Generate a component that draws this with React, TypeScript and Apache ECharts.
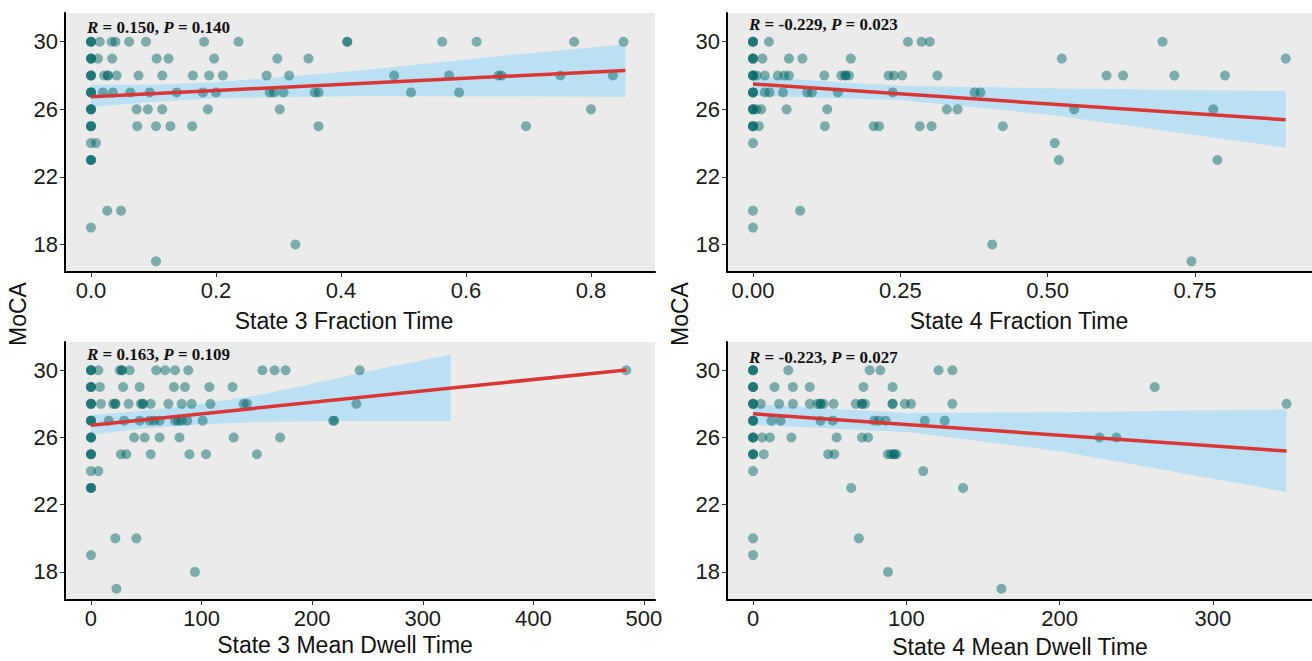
import React, { useEffect, useRef } from "react";
import * as echarts from "echarts";

// MoCA score rows (y values) and the x values read for each row
const mocaLevels = [30, 29, 28, 27, 26, 25, 24, 23, 20, 19, 18, 17];

const state3FractionX = [
  [0, 0, 0, 0.014, 0.033, 0.039, 0.061, 0.088, 0.181, 0.236, 0.41, 0.41, 0.562, 0.617, 0.773, 0.852],
  [0, 0, 0, 0.011, 0.034, 0.105, 0.124, 0.197, 0.298, 0.348],
  [0, 0, 0, 0.021, 0.027, 0.027, 0.041, 0.076, 0.114, 0.163, 0.189, 0.211, 0.281, 0.317, 0.485, 0.573, 0.652, 0.657, 0.751, 0.835],
  [0, 0, 0, 0.019, 0.035, 0.063, 0.094, 0.137, 0.179, 0.2, 0.286, 0.293, 0.308, 0.358, 0.364, 0.512, 0.589],
  [0, 0, 0, 0.073, 0.091, 0.114, 0.187, 0.302, 0.8],
  [0, 0, 0, 0.074, 0.104, 0.127, 0.162, 0.364, 0.696],
  [0, 0.008],
  [0, 0, 0],
  [0.026, 0.048],
  [0],
  [0.327],
  [0.104],
];

const state4FractionX = [
  [0, 0, 0, 0.027, 0.263, 0.286, 0.3, 0.695],
  [0, 0, 0, 0.016, 0.061, 0.084, 0.166, 0.524, 0.904],
  [0, 0, 0, 0.006, 0.02, 0.042, 0.053, 0.061, 0.121, 0.15, 0.157, 0.157, 0.163, 0.23, 0.239, 0.253, 0.313, 0.6, 0.628, 0.715, 0.801],
  [0, 0, 0, 0.02, 0.028, 0.051, 0.092, 0.1, 0.144, 0.237, 0.376, 0.386],
  [0, 0, 0, 0.006, 0.014, 0.057, 0.126, 0.329, 0.347, 0.545, 0.781],
  [0, 0, 0, 0.01, 0.122, 0.205, 0.214, 0.283, 0.303, 0.424],
  [0, 0.512],
  [0.519, 0.788],
  [0, 0.08],
  [0],
  [0.406],
  [0.744],
];

const state3DwellX = [
  [0, 0, 0, 6.6, 26, 28, 28, 35, 59, 67, 76, 88, 155, 166, 176, 243, 484],
  [0, 0, 0, 8, 29, 44, 75, 85, 107, 128],
  [0, 0, 0, 9, 20, 22, 22, 34, 45, 47, 47, 54, 70, 82, 91, 108, 138, 141, 240],
  [0, 0, 0, 16, 30, 44, 53, 57, 62, 76, 79, 82, 87, 101, 219, 220],
  [0, 0, 0, 39, 48.5, 62, 80, 129, 171],
  [0, 0, 0, 27, 32, 54, 89, 104, 150],
  [0, 6.6],
  [0, 0, 0],
  [22, 41],
  [0],
  [94],
  [23],
];

const state4DwellX = [
  [0, 0, 0, 23, 76, 83, 121, 130],
  [0, 0, 0, 14, 26, 37, 72, 91, 262],
  [0, 0, 0, 5, 17, 26, 37, 42, 44, 44, 46, 52.5, 67, 71, 71, 73, 91, 91, 99, 103, 130, 348],
  [0, 0, 0, 12, 18, 44, 52, 79, 82, 86.5, 112, 125],
  [0, 0, 0, 6, 11, 25, 54.5, 71, 75, 226, 237],
  [0, 0, 0, 7, 49, 53, 88, 90, 92, 92, 93.5],
  [0, 111],
  [64, 137],
  [0, 69],
  [0],
  [88],
  [162],
];

// fitted lines (end points) and confidence bands
const state3FractionFitX = [0, 0.855];
const state3FractionFitY = [26.75, 28.3];
const state3FractionBandX = [0, 0.1, 0.2, 0.3, 0.43, 0.64, 0.855];
const state3FractionBandUpper = [27.45, 27.45, 27.6, 27.9, 28.3, 29.1, 29.85];
const state3FractionBandLower = [26.15, 26.45, 26.65, 26.72, 26.78, 26.77, 26.75];

const state4FractionFitX = [0, 0.904];
const state4FractionFitY = [27.5, 25.38];
const state4FractionBandX = [0, 0.1, 0.25, 0.5, 0.904];
const state4FractionBandUpper = [27.98, 27.7, 27.39, 27.25, 27.08];
const state4FractionBandLower = [26.8, 26.7, 26.55, 25.69, 23.73];

const state3DwellFitX = [0, 484];
const state3DwellFitY = [26.73, 30.02];
const state3DwellBandX = [0, 50, 100, 150, 200, 243, 325];
const state3DwellBandUpper = [27.33, 27.6, 28.0, 28.5, 29.2, 29.84, 30.93];
const state3DwellBandLower = [26.18, 26.55, 26.78, 26.9, 26.97, 26.98, 26.98];

const state4DwellFitX = [0, 348];
const state4DwellFitY = [27.41, 25.19];
const state4DwellBandX = [0, 100, 200, 348];
const state4DwellBandUpper = [27.97, 27.45, 27.5, 27.68];
const state4DwellBandLower = [26.75, 26.32, 25.18, 22.76];

const yTicks = [18, 22, 26, 30];
const state3FractionTicks = [0, 0.2, 0.4, 0.6, 0.8];
const state4FractionTicks = [0, 0.25, 0.5, 0.75];
const state3DwellTicks = [0, 100, 200, 300, 400, 500];
const state4DwellTicks = [0, 100, 200, 300];

const xTitles = ["State 3 Fraction Time", "State 4 Fraction Time", "State 3 Mean Dwell Time", "State 4 Mean Dwell Time"];
const statLabels = [
  ["0.150", "0.140"],
  ["-0.229", "0.023"],
  ["0.163", "0.109"],
  ["-0.223", "0.027"],
];

const SANS = "'Liberation Sans', Arial, sans-serif";
const SERIF = "'Liberation Serif', 'Times New Roman', serif";

export default function App() {
  const ref = useRef<HTMLDivElement>(null);

  useEffect(() => {
    if (!ref.current) return;
    const chart = echarts.init(ref.current, undefined, { renderer: "svg" });

    const panels = [
      {
        xs: state3FractionX, fitX: state3FractionFitX, fitY: state3FractionFitY,
        bandX: state3FractionBandX, bandU: state3FractionBandUpper, bandL: state3FractionBandLower,
        ticks: state3FractionTicks, fmt: (v: number) => v.toFixed(1),
        grid: { left: 65, top: 13, width: 590, height: 259 },
        xMin: -0.0416, xMax: 0.9024, yMin: 16.37, yMax: 31.7,
      },
      {
        xs: state4FractionX, fitX: state4FractionFitX, fitY: state4FractionFitY,
        bandX: state4FractionBandX, bandU: state4FractionBandUpper, bandL: state4FractionBandLower,
        ticks: state4FractionTicks, fmt: (v: number) => v.toFixed(2),
        grid: { left: 727, top: 13, width: 585, height: 259 },
        xMin: -0.0441, xMax: 0.9486, yMin: 16.37, yMax: 31.7,
      },
      {
        xs: state3DwellX, fitX: state3DwellFitX, fitY: state3DwellFitY,
        bandX: state3DwellBandX, bandU: state3DwellBandUpper, bandL: state3DwellBandLower,
        ticks: state3DwellTicks, fmt: (v: number) => String(v),
        grid: { left: 65, top: 342, width: 590, height: 258 },
        xMin: -23.5, xMax: 510, yMin: 16.33, yMax: 31.68,
      },
      {
        xs: state4DwellX, fitX: state4DwellFitX, fitY: state4DwellFitY,
        bandX: state4DwellBandX, bandU: state4DwellBandUpper, bandL: state4DwellBandLower,
        ticks: state4DwellTicks, fmt: (v: number) => String(v),
        grid: { left: 727, top: 342, width: 585, height: 258 },
        xMin: -17, xMax: 364.6, yMin: 16.33, yMax: 31.68,
      },
    ];

    const grid = panels.map((p) => ({ ...p.grid, show: true, backgroundColor: "#EBEBEB", borderWidth: 0 }));

    const xAxis = panels.map((p, i) => ({
      type: "value",
      gridIndex: i,
      min: p.xMin,
      max: p.xMax,
      splitLine: { show: false },
      axisLine: { show: true, onZero: false, lineStyle: { color: "#000", width: 2 } },
      axisTick: { show: true, customValues: p.ticks, length: 5, lineStyle: { color: "#333", width: 1 } },
      axisLabel: {
        customValues: p.ticks,
        formatter: p.fmt,
        fontSize: 22,
        fontFamily: SANS,
        color: "#1a1a1a",
        margin: 7,
      },
    }));

    const yAxis = panels.map((p, i) => ({
      type: "value",
      gridIndex: i,
      min: p.yMin,
      max: p.yMax,
      splitLine: { show: false },
      axisLine: { show: true, onZero: false, lineStyle: { color: "#000", width: 2 } },
      axisTick: { show: true, customValues: yTicks, length: 5, lineStyle: { color: "#333", width: 1 } },
      axisLabel: {
        customValues: yTicks,
        fontSize: 22,
        fontFamily: SANS,
        color: "#1a1a1a",
        margin: 7,
      },
    }));

    const series: any[] = [];
    panels.forEach((p, i) => {
      const pts: number[][] = [];
      p.xs.forEach((row, r) => row.forEach((x) => pts.push([x, mocaLevels[r]])));
      series.push({
        type: "scatter",
        xAxisIndex: i,
        yAxisIndex: i,
        data: pts,
        symbolSize: 10,
        itemStyle: { color: "rgba(0,100,100,0.6)" },
        silent: true,
      });
      series.push({
        type: "custom",
        xAxisIndex: i,
        yAxisIndex: i,
        data: [[p.bandX[0], p.bandL[0]]],
        clip: true,
        silent: true,
        renderItem: (_params: any, api: any) => {
          const poly: number[][] = [];
          p.bandX.forEach((x, k) => poly.push(api.coord([x, p.bandU[k]])));
          for (let k = p.bandX.length - 1; k >= 0; k--) poly.push(api.coord([p.bandX[k], p.bandL[k]]));
          return {
            type: "polygon",
            shape: { points: poly },
            style: { fill: "rgba(150,215,250,0.55)", stroke: "none" },
          };
        },
      });
      series.push({
        type: "line",
        xAxisIndex: i,
        yAxisIndex: i,
        data: p.fitX.map((x, k) => [x, p.fitY[k]]),
        symbol: "none",
        lineStyle: { color: "#D93636", width: 3.5 },
        silent: true,
      });
    });

    const statPos = [
      [87, 27],
      [749, 24],
      [87, 354],
      [749, 357],
    ];
    const titlePos = [
      [344, 321],
      [1019, 321],
      [345, 645],
      [1020, 647],
    ];

    const graphic: any[] = [];
    statLabels.forEach((s, i) => {
      graphic.push({
        type: "text",
        x: statPos[i][0],
        y: statPos[i][1],
        z: 100,
        style: {
          text: `{i|R}{b| = ${s[0]}, }{i|P}{b| = ${s[1]}}`,
          rich: {
            i: { fontStyle: "italic", fontWeight: "bold", fontFamily: SERIF, fontSize: 17, fill: "#111" },
            b: { fontWeight: "bold", fontFamily: SERIF, fontSize: 17, fill: "#111" },
          },
          textAlign: "left",
          textVerticalAlign: "middle",
        },
      });
    });
    xTitles.forEach((t, i) => {
      graphic.push({
        type: "text",
        x: titlePos[i][0],
        y: titlePos[i][1],
        style: {
          text: t,
          fontSize: 23,
          fontFamily: SANS,
          fill: "#111",
          textAlign: "center",
          textVerticalAlign: "middle",
        },
      });
    });
    [
      [18, 314],
      [680, 314],
    ].forEach((pos) => {
      graphic.push({
        type: "text",
        x: pos[0],
        y: pos[1],
        rotation: Math.PI / 2,
        style: {
          text: "MoCA",
          fontSize: 23,
          fontFamily: SANS,
          fill: "#111",
          textAlign: "center",
          textVerticalAlign: "middle",
        },
      });
    });

    chart.setOption({
      animation: false,
      backgroundColor: "#ffffff",
      grid,
      xAxis,
      yAxis,
      series,
      graphic,
    });

    return () => chart.dispose();
  }, []);

  return (
    <div
      ref={ref}
      style={{ position: "fixed", left: 0, top: 0, width: 1312, height: 661, background: "#fff" }}
    />
  );
}
